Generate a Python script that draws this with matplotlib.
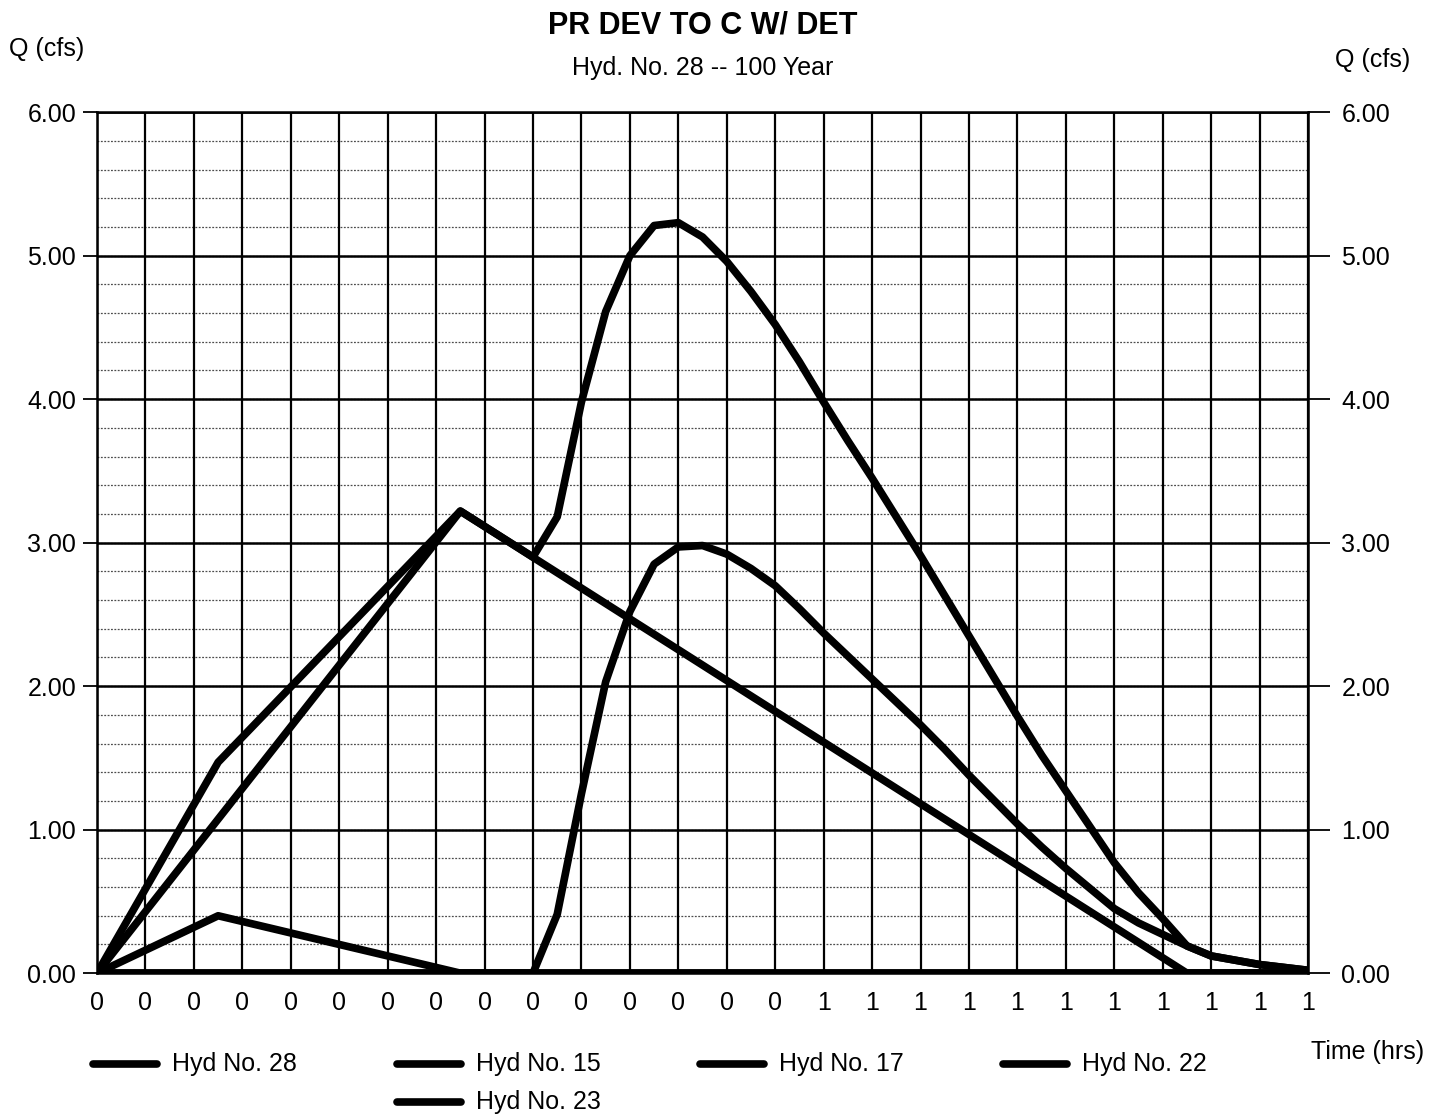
import numpy as np
import matplotlib.pyplot as plt
from matplotlib.lines import Line2D

plt.rcParams['font.family'] = ['Liberation Sans', 'DejaVu Sans']

# time in minutes, flow in cfs
hyd15_t = [0, 30, 90, 100]
hyd15_q = [0.00, 3.22, 0.00, 0.00]

hyd17_t = [0, 10, 30, 100]
hyd17_q = [0.00, 0.40, 0.00, 0.00]

hyd22_t = [0, 36, 38, 40, 42, 44, 46, 48, 50, 52, 54, 56, 58, 60, 62, 64, 66, 68,
           70, 72, 74, 76, 78, 80, 82, 84, 86, 88, 90, 92, 94, 96, 98, 100]
hyd22_q = [0.00, 0.00, 0.41, 1.25, 2.03, 2.52, 2.85, 2.97, 2.98, 2.92, 2.82, 2.70,
           2.54, 2.37, 2.21, 2.05, 1.89, 1.73, 1.56, 1.38, 1.21, 1.04, 0.88, 0.73,
           0.59, 0.45, 0.35, 0.27, 0.19, 0.12, 0.09, 0.06, 0.04, 0.02]

hyd23_t = [0, 100]
hyd23_q = [0.00, 0.00]

hyd28_t = [0, 10, 30, 36, 38, 40, 42, 44, 46, 48, 50, 52, 54, 56, 58, 60, 62, 64,
           66, 68, 70, 72, 74, 76, 78, 80, 82, 84, 86, 88, 90, 92, 94, 96, 98, 100]
hyd28_q = [0.00, 1.47, 3.22, 2.90, 3.18, 3.98, 4.61, 5.00, 5.21, 5.23, 5.13, 4.96,
           4.75, 4.52, 4.26, 3.98, 3.71, 3.45, 3.18, 2.91, 2.63, 2.35, 2.07, 1.79,
           1.52, 1.27, 1.02, 0.77, 0.56, 0.38, 0.19, 0.12, 0.09, 0.06, 0.04, 0.02]

# x ticks every 4 minutes, labels printed as whole hours
tick_minutes = list(range(0, 101, 4))
tick_labels = ['0', '0', '0', '0', '0', '0', '0', '0', '0', '0', '0', '0', '0',
               '0', '0', '1', '1', '1', '1', '1', '1', '1', '1', '1', '1', '1']
y_ticks = [0, 1, 2, 3, 4, 5, 6]
y_minor = [v / 5 for v in range(31)]

series = [
    ('Hyd No. 28', hyd28_t, hyd28_q),
    ('Hyd No. 15', hyd15_t, hyd15_q),
    ('Hyd No. 17', hyd17_t, hyd17_q),
    ('Hyd No. 22', hyd22_t, hyd22_q),
    ('Hyd No. 23', hyd23_t, hyd23_q),
]

fig = plt.figure(figsize=(14.42, 11.16), dpi=100)
ax = fig.add_axes([0.0673, 0.128, 0.8398, 0.7715])

xt = np.array(tick_minutes) / 60.0

# grid: dotted minor rows, solid major rows and columns
for v in y_minor:
    ax.axhline(v, color='0.3', lw=0.9, ls=(0, (1.5, 1.2)), zorder=1)
for v in y_ticks:
    ax.axhline(v, color='black', lw=1.8, zorder=2)
for x in xt:
    ax.axvline(x, color='black', lw=1.6, zorder=2)

for name, t, q in series:
    ax.plot(np.array(t) / 60.0, q, color='black', lw=5.5, solid_capstyle='round',
            solid_joinstyle='round', zorder=5)

ax.set_xlim(0, 100 / 60.0)
ax.set_ylim(0, 6)
ax.set_xticks(xt)
ax.set_xticklabels(tick_labels, fontsize=18)
ax.set_yticks(y_ticks)
ax.set_yticklabels(['%.2f' % v for v in y_ticks], fontsize=18)
ax.tick_params(axis='x', length=0, pad=13)
ax.tick_params(axis='y', length=10, width=1.3, pad=5)
for s in ax.spines.values():
    s.set_linewidth(1.8)

ax2 = ax.twinx()
ax2.set_ylim(0, 6)
ax2.set_yticks(y_ticks)
ax2.set_yticklabels(['%.2f' % v for v in y_ticks], fontsize=18)
ax2.tick_params(axis='y', length=16, width=1.3, pad=8)

fig.text(0.487, 0.977, 'PR DEV TO C W/ DET', ha='center', va='center',
         fontsize=22, fontweight='bold')
fig.text(0.487, 0.939, 'Hyd. No. 28 -- 100 Year', ha='center', va='center', fontsize=18)
fig.text(0.006, 0.956, 'Q (cfs)', ha='left', va='center', fontsize=18)
fig.text(0.926, 0.946, 'Q (cfs)', ha='left', va='center', fontsize=18)
fig.text(0.909, 0.057, 'Time (hrs)', ha='left', va='center', fontsize=18)

# legend drawn by hand: four columns, fifth entry wraps under the second
legend_pos = [(93, 1064), (397, 1064), (700, 1064), (1003, 1064), (397, 1102)]
W, H = 1442.0, 1116.0
for (name, t, q), (px, py) in zip(series, legend_pos):
    yf = 1 - py / H
    fig.add_artist(Line2D([px / W, (px + 64) / W], [yf, yf], color='black', lw=5.5,
                          solid_capstyle='round'))
    fig.text((px + 79) / W, yf, name, ha='left', va='center', fontsize=18)

fig.savefig('out.png', dpi=100, facecolor='white')
